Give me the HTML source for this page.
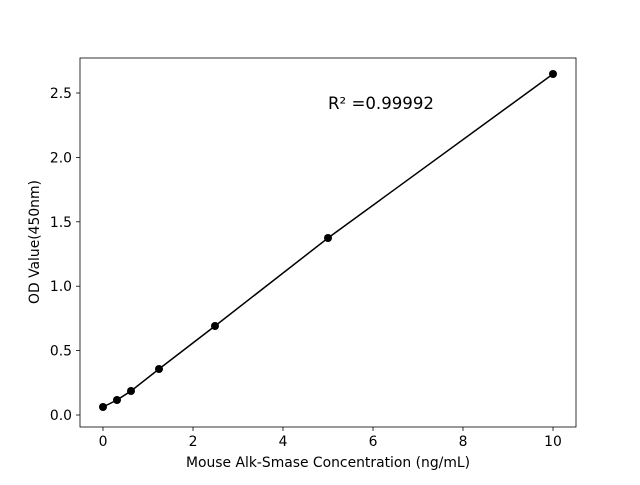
<!DOCTYPE html>
<html><head><meta charset="utf-8"><style>body{margin:0;background:#fff}</style></head><body>
<svg width="640" height="480" xmlns="http://www.w3.org/2000/svg" font-family="DejaVu Sans, Liberation Sans, sans-serif" font-size="13.9">
<rect width="640" height="480" fill="#fff"/>
<rect x="80" y="58" width="496" height="369" fill="none" stroke="#000" stroke-width="0.8"/>
<g stroke="#000" stroke-width="0.8">
<line x1="103" y1="427" x2="103" y2="431"/><line x1="193" y1="427" x2="193" y2="431"/><line x1="283" y1="427" x2="283" y2="431"/><line x1="373" y1="427" x2="373" y2="431"/><line x1="463" y1="427" x2="463" y2="431"/><line x1="553" y1="427" x2="553" y2="431"/>
<line x1="76" y1="415" x2="80" y2="415"/><line x1="76" y1="350.6" x2="80" y2="350.6"/><line x1="76" y1="286.2" x2="80" y2="286.2"/><line x1="76" y1="221.8" x2="80" y2="221.8"/><line x1="76" y1="157.4" x2="80" y2="157.4"/><line x1="76" y1="93" x2="80" y2="93"/>
</g>
<g text-anchor="middle">
<text x="103" y="446">0</text><text x="193" y="446">2</text><text x="283" y="446">4</text><text x="373" y="446">6</text><text x="463" y="446">8</text><text x="553" y="446">10</text>
</g>
<g text-anchor="end">
<text x="72" y="420">0.0</text><text x="72" y="355.6">0.5</text><text x="72" y="291.2">1.0</text><text x="72" y="226.8">1.5</text><text x="72" y="162.4">2.0</text><text x="72" y="98">2.5</text>
</g>
<text x="328" y="467" text-anchor="middle">Mouse Alk-Smase Concentration (ng/mL)</text>
<text transform="translate(39,242) rotate(-90)" text-anchor="middle">OD Value(450nm)</text>
<polyline fill="none" stroke="#000" stroke-width="1.5" points="103,407 117,400 131,391 159,369 215,326 328,238 553,74"/>
<g fill="#000">
<circle cx="103" cy="407" r="4"/><circle cx="117" cy="400" r="4"/><circle cx="131" cy="391" r="4"/><circle cx="159" cy="369" r="4"/><circle cx="215" cy="326" r="4"/><circle cx="328" cy="238" r="4"/><circle cx="553" cy="74" r="4"/>
</g>
<text x="328" y="109" font-size="16.6">R² =0.99992</text>
</svg>
</body></html>
